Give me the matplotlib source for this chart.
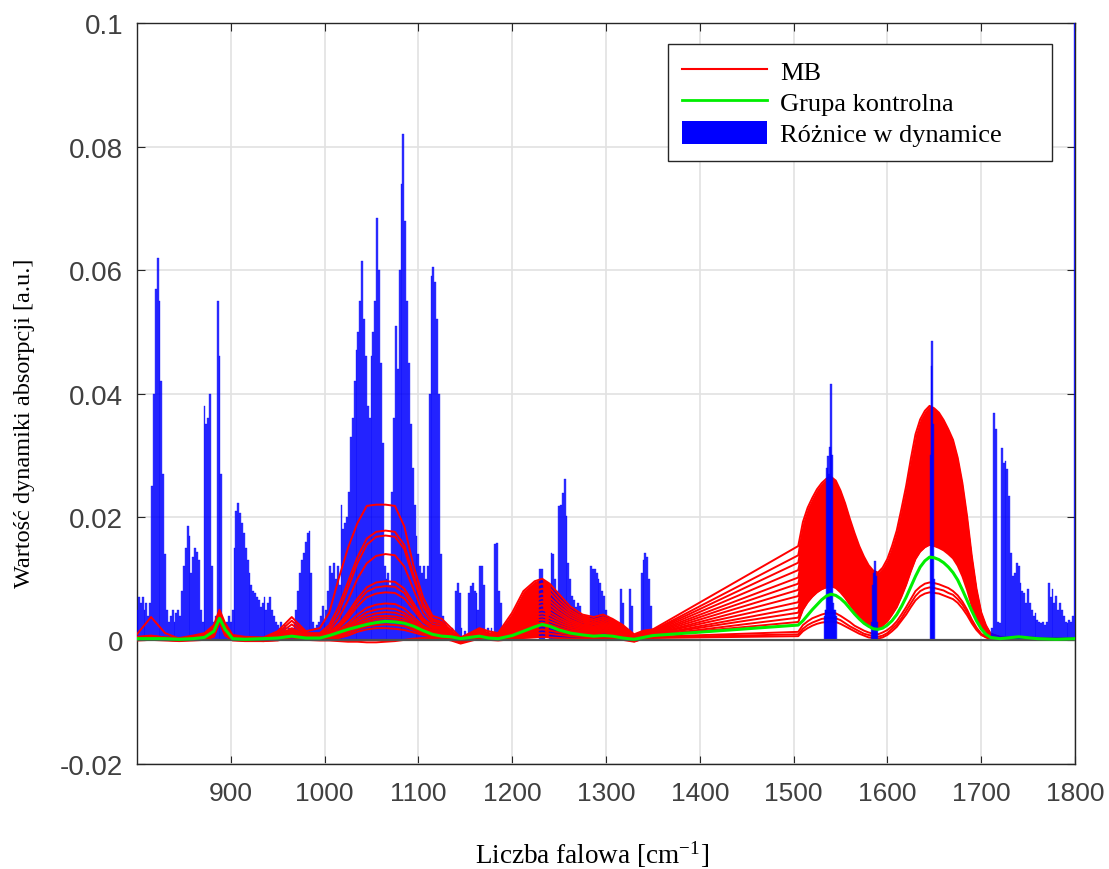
import numpy as np
import matplotlib
matplotlib.use("Agg")
import matplotlib.pyplot as plt
from matplotlib.lines import Line2D
from matplotlib.patches import Patch

# ---------------- data (absorbance values in 1e-3 a.u.) ----------------
wn_lo = [800, 815, 830, 845, 860, 872, 882, 888, 894, 902, 915, 935, 950, 965, 980,
         995, 1005, 1015, 1025, 1035, 1045, 1055, 1065, 1075, 1085, 1095, 1105, 1115,
         1125, 1135, 1145, 1155, 1165, 1175, 1185, 1200, 1212, 1224, 1232, 1240, 1250,
         1262, 1275, 1287, 1297, 1307, 1318, 1330, 1340, 1350]
wn_hi = [1505, 1510, 1515, 1520, 1525, 1530, 1535, 1540,
         1545, 1550, 1555, 1560, 1565, 1570, 1575, 1580, 1585, 1590,
         1595, 1600, 1605, 1610, 1615, 1620, 1625, 1630, 1635, 1640, 1645,
         1650, 1655, 1660, 1665, 1670, 1675, 1680, 1685, 1690, 1695, 1700, 1705, 1710,
         1720, 1740, 1760, 1780, 1800]

mb_lo = [
    [0.6, 0.8, 0.5, 0.4, 0.8, 1.2, 2.5, 5.0, 2.8, 0.9, 0.6, 0.5, 1.5, 3.8, 1.5, 2.0, 4.5, 10.0, 15.0, 19.0, 21.8, 22.0, 22.0, 21.8, 18.5, 12.0, 7.0, 4.0, 3.5, 2.0, 0.5, 1.2, 2.0, 1.5, 1.2, 4.5, 8.0, 9.6, 10.0, 9.2, 7.5, 5.5, 4.2, 3.8, 4.2, 3.5, 2.5, 1.0, 1.6, 1.8],
    [0.4, 0.6, 0.4, 0.3, 0.6, 1.0, 2.2, 4.6, 2.4, 0.7, 0.5, 0.4, 1.2, 3.2, 1.2, 1.2, 2.5, 5.5, 9.5, 13.5, 16.5, 17.6, 17.8, 17.6, 15.5, 10.5, 6.0, 3.5, 3.0, 1.6, 0.3, 1.0, 1.8, 1.2, 1.0, 3.8, 7.0, 8.8, 9.2, 8.5, 6.8, 5.0, 3.8, 3.4, 3.8, 3.2, 2.2, 0.8, 1.4, 1.6],
    [0.5, 0.7, 0.5, 0.3, 0.7, 0.9, 2.0, 4.2, 2.2, 0.6, 0.4, 0.3, 0.9, 2.6, 1.0, 1.0, 2.0, 4.5, 8.5, 12.5, 15.5, 16.8, 17.0, 16.8, 14.8, 10.0, 5.5, 3.2, 2.8, 1.4, 0.2, 0.9, 1.6, 1.0, 0.9, 3.3, 6.3, 8.0, 8.4, 7.8, 6.2, 4.6, 3.5, 3.1, 3.5, 2.9, 2.0, 0.7, 1.3, 1.5],
    [0.3, 0.5, 0.4, 0.3, 0.5, 0.8, 1.9, 3.9, 2.0, 0.5, 0.4, 0.3, 0.8, 2.0, 0.9, 0.8, 1.6, 3.5, 6.5, 10.0, 12.5, 13.7, 14.0, 13.8, 12.0, 8.2, 4.5, 2.8, 2.5, 1.2, 0.1, 0.8, 1.5, 0.9, 0.8, 2.9, 5.6, 7.2, 7.6, 7.0, 5.6, 4.2, 3.2, 2.8, 3.2, 2.6, 1.8, 0.6, 1.2, 1.4],
    [0.4, 0.6, 0.4, 0.3, 0.6, 0.8, 1.8, 3.8, 1.9, 0.5, 0.4, 0.3, 0.7, 1.8, 0.8, 0.7, 1.3, 2.6, 4.5, 6.8, 8.6, 9.4, 9.6, 9.5, 8.4, 6.0, 3.6, 2.4, 2.2, 1.0, 0.1, 0.7, 1.4, 0.8, 0.7, 2.6, 5.0, 6.5, 6.9, 6.4, 5.1, 3.8, 2.9, 2.6, 2.9, 2.4, 1.6, 0.5, 1.1, 1.3],
    [0.3, 0.5, 0.3, 0.2, 0.5, 0.7, 1.6, 3.6, 1.8, 0.4, 0.3, 0.2, 0.6, 1.6, 0.7, 0.6, 1.1, 2.3, 4.0, 6.2, 7.9, 8.6, 8.8, 8.7, 7.7, 5.5, 3.3, 2.2, 2.0, 0.9, 0.0, 0.6, 1.3, 0.7, 0.6, 2.3, 4.5, 5.9, 6.3, 5.8, 4.6, 3.4, 2.6, 2.3, 2.7, 2.2, 1.5, 0.4, 1.0, 1.2],
    [1.0, 3.8, 1.2, 0.3, 0.4, 0.6, 1.5, 3.5, 1.7, 0.4, 0.3, 0.2, 0.6, 1.5, 0.6, 0.5, 1.0, 2.0, 3.6, 5.5, 7.0, 7.6, 7.8, 7.7, 6.8, 4.9, 3.0, 2.0, 1.8, 0.8, 0.0, 0.6, 1.2, 0.7, 0.5, 2.0, 4.0, 5.3, 5.7, 5.2, 4.2, 3.1, 2.4, 2.1, 2.5, 2.0, 1.4, 0.4, 0.9, 1.1],
    [0.3, 0.4, 0.3, 0.2, 0.4, 0.6, 1.4, 3.4, 1.6, 0.3, 0.2, 0.2, 0.5, 1.4, 0.5, 0.4, 0.8, 1.6, 2.8, 4.2, 5.3, 5.8, 6.0, 5.9, 5.2, 3.8, 2.4, 1.7, 1.6, 0.7, -0.1, 0.5, 1.1, 0.6, 0.5, 1.8, 3.6, 4.7, 5.0, 4.6, 3.7, 2.8, 2.2, 1.9, 2.3, 1.8, 1.2, 0.3, 0.9, 1.0],
    [0.2, 0.4, 0.3, 0.2, 0.4, 0.5, 1.3, 3.3, 1.5, 0.3, 0.2, 0.1, 0.4, 1.3, 0.5, 0.4, 0.7, 1.4, 2.4, 3.6, 4.6, 5.0, 5.2, 5.1, 4.5, 3.3, 2.1, 1.5, 1.4, 0.6, -0.1, 0.5, 1.0, 0.6, 0.4, 1.6, 3.2, 4.2, 4.4, 4.1, 3.3, 2.5, 2.0, 1.7, 2.1, 1.7, 1.1, 0.3, 0.8, 1.0],
    [0.3, 0.4, 0.3, 0.2, 0.3, 0.5, 1.2, 3.2, 1.4, 0.3, 0.2, 0.1, 0.4, 1.2, 0.4, 0.3, 0.6, 1.2, 2.1, 3.2, 4.0, 4.4, 4.6, 4.5, 4.0, 2.9, 1.9, 1.4, 1.3, 0.5, -0.2, 0.4, 0.9, 0.5, 0.4, 1.4, 2.8, 3.7, 3.9, 3.6, 2.9, 2.2, 1.8, 1.6, 1.9, 1.5, 1.0, 0.2, 0.8, 0.9],
    [0.2, 0.3, 0.2, 0.1, 0.3, 0.4, 1.1, 3.1, 1.3, 0.2, 0.1, 0.1, 0.3, 1.1, 0.4, 0.3, 0.5, 1.0, 1.8, 2.8, 3.5, 3.9, 4.0, 3.9, 3.5, 2.6, 1.7, 1.2, 1.1, 0.5, -0.2, 0.4, 0.8, 0.5, 0.3, 1.2, 2.4, 3.2, 3.4, 3.1, 2.5, 1.9, 1.6, 1.4, 1.7, 1.4, 0.9, 0.2, 0.7, 0.9],
    [0.2, 0.3, 0.2, 0.1, 0.3, 0.4, 1.0, 3.0, 1.2, 0.2, 0.1, 0.0, 0.3, 1.0, 0.3, 0.2, 0.4, 0.9, 1.6, 2.5, 3.1, 3.5, 3.6, 3.5, 3.1, 2.3, 1.5, 1.1, 1.0, 0.4, -0.2, 0.3, 0.8, 0.4, 0.3, 1.0, 2.0, 2.7, 2.9, 2.6, 2.1, 1.6, 1.4, 1.2, 1.5, 1.2, 0.8, 0.1, 0.7, 0.8],
    [0.2, 0.2, 0.2, 0.1, 0.2, 0.3, 0.9, 3.0, 1.1, 0.2, 0.1, 0.0, 0.2, 0.9, 0.3, 0.2, 0.4, 0.8, 1.4, 2.2, 2.8, 3.1, 3.2, 3.1, 2.8, 2.0, 1.3, 1.0, 0.9, 0.4, -0.2, 0.3, 0.7, 0.4, 0.2, 0.8, 1.6, 2.2, 2.4, 2.2, 1.8, 1.4, 1.2, 1.0, 1.3, 1.1, 0.7, 0.1, 0.6, 0.8],
    [0.1, 0.2, 0.1, 0.0, 0.2, 0.3, 0.8, 3.2, 1.0, 0.1, 0.0, 0.0, 0.2, 0.8, 0.2, 0.1, 0.3, 0.6, 1.1, 1.8, 2.3, 2.5, 2.6, 2.5, 2.3, 1.7, 1.1, 0.8, 0.7, 0.3, -0.3, 0.2, 0.6, 0.3, 0.2, 0.6, 1.2, 1.6, 1.8, 1.6, 1.3, 1.0, 0.9, 0.8, 1.0, 0.8, 0.5, 0.0, 0.5, 0.6],
    [0.1, 0.1, 0.1, 0.0, 0.1, 0.2, 0.7, 3.0, 0.9, 0.1, 0.0, -0.1, 0.1, 0.7, 0.2, 0.1, 0.2, 0.4, 0.8, 1.4, 1.8, 2.0, 2.0, 1.9, 1.7, 1.3, 0.9, 0.6, 0.5, 0.2, -0.4, 0.1, 0.5, 0.2, 0.1, 0.4, 0.8, 1.1, 1.2, 1.1, 0.9, 0.7, 0.6, 0.5, 0.7, 0.6, 0.3, -0.1, 0.4, 0.5],
    [0.0, 0.1, 0.0, -0.1, 0.0, 0.1, 0.6, 3.0, 0.8, 0.0, -0.1, -0.1, 0.0, 0.5, 0.1, 0.0, 0.0, -0.1, -0.2, -0.2, -0.3, -0.3, -0.2, -0.1, 0.1, 0.3, 0.4, 0.4, 0.3, 0.0, -0.5, -0.1, 0.3, 0.1, 0.0, 0.2, 0.4, 0.5, 0.6, 0.5, 0.4, 0.3, 0.3, 0.3, 0.4, 0.3, 0.1, -0.2, 0.3, 0.4],
]
mb_hi = [
    [15.3, 19.2, 21.5, 23.1, 24.5, 25.5, 26.2, 26.5, 25.9, 24.3, 22.2, 19.7, 17.4, 15.3, 13.6, 12.2, 11.3, 11.0, 11.8, 13.2, 15.3, 17.8, 21.3, 25.0, 29.4, 33.4, 35.8, 37.2, 38.0, 37.6, 36.9, 35.7, 34.2, 32.5, 29.6, 25.5, 20.1, 13.7, 8.4, 4.6, 2.5, 1.1, 0.6, 0.5, 0.4, 0.3, 0.3],
    [13.8, 17.7, 20.0, 21.6, 23.0, 24.0, 24.7, 25.0, 24.4, 22.9, 20.8, 18.4, 16.2, 14.2, 12.6, 11.2, 10.3, 10.0, 10.8, 12.1, 14.2, 16.5, 19.9, 23.5, 27.7, 31.6, 33.9, 35.2, 36.0, 35.6, 34.9, 33.8, 32.4, 30.8, 28.1, 24.1, 19.1, 13.0, 7.9, 4.3, 2.3, 1.1, 0.5, 0.5, 0.4, 0.3, 0.3],
    [12.6, 16.4, 18.6, 20.2, 21.5, 22.5, 23.2, 23.5, 22.9, 21.5, 19.4, 17.1, 15.0, 13.1, 11.5, 10.2, 9.3, 9.0, 9.8, 11.0, 13.1, 15.4, 18.7, 22.3, 26.3, 30.2, 32.5, 33.7, 34.5, 34.2, 33.5, 32.4, 31.1, 29.5, 26.9, 23.1, 18.3, 12.4, 7.6, 4.1, 2.2, 1.0, 0.5, 0.5, 0.4, 0.3, 0.3],
    [11.4, 15.1, 17.2, 18.8, 20.1, 21.0, 21.7, 22.0, 21.5, 20.1, 18.1, 15.9, 13.9, 12.1, 10.6, 9.3, 8.5, 8.2, 8.9, 10.2, 12.2, 14.4, 17.6, 21.1, 25.1, 28.8, 31.0, 32.3, 33.0, 32.7, 32.0, 31.0, 29.7, 28.2, 25.7, 22.1, 17.5, 11.9, 7.3, 4.0, 2.1, 1.0, 0.5, 0.5, 0.4, 0.3, 0.3],
    [10.2, 13.8, 15.9, 17.4, 18.6, 19.6, 20.2, 20.5, 20.0, 18.6, 16.8, 14.7, 12.7, 10.9, 9.5, 8.3, 7.5, 7.2, 7.9, 9.1, 11.0, 13.2, 16.2, 19.6, 23.4, 27.0, 29.1, 30.3, 31.0, 30.7, 30.1, 29.1, 27.9, 26.5, 24.2, 20.8, 16.4, 11.2, 6.8, 3.7, 2.0, 0.9, 0.5, 0.5, 0.4, 0.3, 0.3],
    [9.2, 12.6, 14.6, 16.1, 17.2, 18.1, 18.7, 19.0, 18.5, 17.2, 15.5, 13.5, 11.6, 9.9, 8.5, 7.4, 6.7, 6.4, 7.1, 8.2, 10.0, 12.1, 15.0, 18.2, 21.8, 25.2, 27.2, 28.3, 29.0, 28.7, 28.1, 27.3, 26.1, 24.8, 22.6, 19.4, 15.4, 10.4, 6.4, 3.5, 1.9, 0.9, 0.4, 0.5, 0.4, 0.3, 0.3],
    [8.2, 11.5, 13.3, 14.7, 15.8, 16.7, 17.2, 17.5, 17.0, 15.8, 14.2, 12.3, 10.5, 8.9, 7.6, 6.6, 5.8, 5.6, 6.2, 7.3, 9.0, 11.0, 13.7, 16.7, 20.2, 23.4, 25.3, 26.4, 27.0, 26.7, 26.2, 25.4, 24.3, 23.1, 21.1, 18.1, 14.3, 9.7, 5.9, 3.2, 1.8, 0.8, 0.4, 0.5, 0.4, 0.3, 0.3],
    [7.2, 10.3, 12.0, 13.4, 14.4, 15.2, 15.7, 16.0, 15.6, 14.4, 12.9, 11.1, 9.4, 7.9, 6.7, 5.7, 5.0, 4.8, 5.4, 6.4, 8.0, 9.9, 12.5, 15.3, 18.5, 21.6, 23.4, 24.4, 25.0, 24.8, 24.3, 23.5, 22.5, 21.4, 19.5, 16.8, 13.3, 9.0, 5.5, 3.0, 1.6, 0.8, 0.4, 0.5, 0.4, 0.3, 0.3],
    [6.2, 9.1, 10.8, 12.0, 13.0, 13.8, 14.3, 14.5, 14.1, 13.0, 11.6, 9.9, 8.3, 6.9, 5.8, 4.8, 4.2, 4.0, 4.6, 5.5, 7.0, 8.8, 11.2, 13.9, 16.9, 19.8, 21.5, 22.4, 23.0, 22.8, 22.3, 21.6, 20.7, 19.7, 17.9, 15.4, 12.2, 8.3, 5.1, 2.8, 1.5, 0.7, 0.4, 0.5, 0.4, 0.3, 0.3],
    [5.3, 8.0, 9.5, 10.7, 11.6, 12.3, 12.8, 13.0, 12.6, 11.7, 10.3, 8.8, 7.3, 6.1, 5.0, 4.2, 3.6, 3.4, 3.9, 4.8, 6.2, 7.8, 10.1, 12.6, 15.4, 18.0, 19.6, 20.5, 21.0, 20.8, 20.4, 19.7, 18.9, 18.0, 16.4, 14.1, 11.1, 7.6, 4.6, 2.5, 1.4, 0.6, 0.3, 0.4, 0.3, 0.3, 0.2],
    [4.5, 7.0, 8.4, 9.4, 10.2, 10.9, 11.3, 11.5, 11.2, 10.3, 9.1, 7.7, 6.4, 5.2, 4.3, 3.5, 3.0, 2.8, 3.3, 4.1, 5.4, 6.9, 9.0, 11.2, 13.8, 16.3, 17.7, 18.5, 19.0, 18.8, 18.4, 17.9, 17.1, 16.2, 14.8, 12.7, 10.1, 6.8, 4.2, 2.3, 1.2, 0.6, 0.3, 0.4, 0.3, 0.3, 0.2],
    [3.7, 5.9, 7.2, 8.1, 8.9, 9.4, 9.8, 10.0, 9.7, 8.9, 7.8, 6.6, 5.5, 4.5, 3.6, 2.9, 2.5, 2.3, 2.7, 3.5, 4.7, 6.0, 7.9, 9.9, 12.3, 14.5, 15.8, 16.6, 17.0, 16.8, 16.5, 16.0, 15.3, 14.5, 13.3, 11.4, 9.0, 6.1, 3.7, 2.0, 1.1, 0.5, 0.3, 0.4, 0.3, 0.2, 0.2],
    [3.0, 5.0, 6.2, 7.1, 7.8, 8.3, 8.6, 8.8, 8.5, 7.8, 6.9, 5.8, 4.8, 3.9, 3.2, 2.5, 2.1, 2.0, 2.4, 3.1, 4.2, 5.4, 7.1, 9.0, 11.2, 13.2, 14.4, 15.1, 15.5, 15.3, 15.0, 14.6, 14.0, 13.3, 12.1, 10.4, 8.2, 5.6, 3.4, 1.9, 1.0, 0.5, 0.3, 0.4, 0.3, 0.2, 0.2],
    [1.4, 2.5, 3.1, 3.6, 3.9, 4.2, 4.4, 4.5, 4.4, 4.0, 3.5, 3.0, 2.4, 2.0, 1.6, 1.3, 1.1, 1.0, 1.3, 1.7, 2.3, 3.1, 4.2, 5.4, 6.7, 8.0, 8.7, 9.2, 9.4, 9.3, 9.1, 8.8, 8.5, 8.0, 7.3, 6.3, 5.0, 3.4, 2.1, 1.1, 0.6, 0.3, 0.2, 0.3, 0.2, 0.2, 0.2],
    [1.0, 1.9, 2.5, 2.9, 3.2, 3.5, 3.6, 3.7, 3.6, 3.3, 2.8, 2.3, 1.9, 1.5, 1.1, 0.9, 0.7, 0.6, 0.8, 1.2, 1.9, 2.6, 3.6, 4.8, 6.0, 7.2, 8.0, 8.4, 8.6, 8.5, 8.3, 8.1, 7.7, 7.4, 6.7, 5.8, 4.6, 3.1, 1.9, 1.0, 0.6, 0.3, 0.2, 0.3, 0.2, 0.2, 0.1],
    [0.7, 1.5, 2.0, 2.4, 2.7, 2.9, 3.0, 3.1, 3.0, 2.7, 2.3, 1.9, 1.5, 1.1, 0.8, 0.5, 0.4, 0.3, 0.5, 0.9, 1.5, 2.2, 3.2, 4.2, 5.4, 6.5, 7.2, 7.6, 7.8, 7.7, 7.6, 7.3, 7.0, 6.7, 6.1, 5.2, 4.1, 2.8, 1.7, 0.9, 0.5, 0.2, 0.2, 0.3, 0.2, 0.1, 0.1],
]
ctrl_lo = [0.3, 0.3, 0.3, 0.2, 0.3, 0.5, 1.5, 3.6, 1.8, 0.3, 0.2, 0.3, 0.4, 0.7, 0.4,
           0.4, 0.8, 1.3, 1.8, 2.2, 2.6, 2.9, 3.1, 3.0, 2.8, 2.3, 1.6, 1.0, 0.7, 0.6,
           0.3, 0.5, 0.7, 0.4, 0.3, 0.8, 1.5, 2.2, 2.6, 2.3, 1.7, 1.2, 0.9, 0.7, 0.8,
           0.7, 0.4, 0.2, 0.5, 0.8]
ctrl_hi = [2.5, 3.2, 4.1, 5.0, 5.8, 6.6, 7.2, 7.5,
           7.3, 6.8, 6.1, 5.2, 4.3, 3.5, 2.8, 2.3, 1.9, 1.8,
           2.0, 2.5, 3.2, 4.2, 5.5, 7.0, 8.7, 10.4, 11.9, 12.9, 13.5,
           13.4, 13.1, 12.6, 11.9, 11.0, 9.8, 8.2, 6.5, 4.8, 3.2, 1.9, 1.0, 0.5,
           0.3, 0.6, 0.3, 0.2, 0.3]

# differences in dynamics (bars)
diff_wn_a = list(range(800, 1131, 2))
diff_val_a = [5, 7, 6, 7, 5, 6, 4, 6, 25, 40,
              57, 62, 55, 42, 27, 14, 5, 3, 4, 5,
              3, 4.5, 5, 4, 8, 12, 15, 18.6, 17, 11,
              13.6, 15, 14.4, 13, 5, 3, 38, 35, 36, 40,
              12, 3, 4, 55, 46, 27, 3, 2, 3, 4,
              3, 5, 15, 21, 22.3, 20.7, 19, 17.4, 15, 13,
              11, 9, 8, 7.7, 7, 6.6, 5.5, 6, 7, 5,
              6, 7, 5, 4, 3, 2.5, 2, 3, 2, 2.5,
              1.5, 2, 1.5, 2, 3, 5, 8, 11, 13, 14.2,
              16, 17.4, 17.7, 11, 3, 2, 2.5, 3, 4, 5.6,
              3,
              5, 8, 12, 11, 12.5, 10, 12, 9, 22,
              18, 19, 20, 24, 33, 36, 42, 47, 50, 55,
              61.5, 52, 46, 38, 36, 46, 50, 55, 68.5, 60,
              45, 32, 12, 10, 11, 9, 24, 36, 51, 44,
              60, 74, 82, 68, 55, 45, 35, 28, 22, 17,
              14, 12, 11, 12, 10, 12, 40, 59, 60.5, 58,
              52, 40, 14, 4, 3, 2.5]
diff_wn_b = [1132, 1136, 1140, 1142, 1144, 1146, 1150, 1154, 1156, 1158, 1160, 1162, 1164,
             1166, 1168, 1170, 1174, 1178, 1182, 1184, 1186, 1188, 1190, 1200, 1230, 1232,
             1234, 1240, 1242, 1244, 1246, 1248, 1250, 1252, 1254, 1256, 1258, 1260, 1262,
             1264, 1266, 1268, 1270, 1272, 1274, 1276, 1284, 1286, 1288, 1290, 1292, 1294,
             1296, 1298, 1300, 1302, 1316, 1318, 1326, 1328, 1338, 1340, 1342, 1344, 1346, 1348]
diff_val_b = [2, 2, 8, 9.3, 7.7, 2, 1.5, 7.7, 8.8, 9.3, 8, 7.7, 5,
              12, 12, 9, 2, 2, 15.6, 15.8, 8, 6.1, 2, 1, 11.5, 11.5,
              5, 4, 14.2, 14, 10, 8, 21.8, 22, 23.9, 26.1, 20.1, 12.6, 10,
              7.2, 6.6, 5.5, 6, 5.6, 4, 3, 12, 11.5, 11.5, 11, 10, 9.3,
              8, 7.2, 5, 4, 8.3, 6, 8.3, 5.6, 11, 13, 14.2, 13.5, 9.9, 5.6]
diff_wn_c = [1533, 1534, 1535, 1536, 1537, 1538, 1539, 1540, 1541, 1542, 1543, 1544, 1545,
             1584, 1585, 1586, 1587, 1588, 1589, 1646, 1647, 1648, 1649, 1650]
diff_val_c = [4, 5, 5, 28, 29.8, 27, 31.4, 41.5, 30, 6, 5, 5, 4,
              3, 9, 11, 12.8, 10.5, 3, 30, 44.4, 48.5, 35, 10]
diff_wn_d = list(range(1712, 1801, 2))
diff_val_d = [2, 36.9, 34.2, 3, 2.8, 31.2, 28.8, 29, 27.7, 23.4, 14.2, 10.4, 11, 12.6, 12,
              9.3, 8, 7.7, 6, 8.3, 6, 5, 4, 4.5, 3.4, 3, 2.8, 3, 2.5, 3,
              9.3, 7, 8.3, 6, 7.2, 5, 6.1, 5, 4, 3, 2.8, 3.4, 3, 4, 110]

x_ticks = [900, 1000, 1100, 1200, 1300, 1400, 1500, 1600, 1700, 1800]
y_ticks = [-0.02, 0, 0.02, 0.04, 0.06, 0.08, 0.1]
y_tick_labels = ["-0.02", "0", "0.02", "0.04", "0.06", "0.08", "0.1"]
legend_labels = ["MB", "Grupa kontrolna", "Różnice w dynamice"]

# ---------------- plotting ----------------
serif = "Liberation Serif"
sans = "Liberation Sans"

wn = np.array(wn_lo + wn_hi, dtype=float)
mb = np.array([lo + hi for lo, hi in zip(mb_lo, mb_hi)], dtype=float) * 1e-3
ctrl = np.array(ctrl_lo + ctrl_hi, dtype=float) * 1e-3
bar_wn = np.array(diff_wn_a + diff_wn_b + diff_wn_c + diff_wn_d, dtype=float)
bar_val = np.array(diff_val_a + diff_val_b + diff_val_c + diff_val_d, dtype=float) * 1e-3

fig = plt.figure(figsize=(11.09, 8.70), dpi=100)
ax = fig.add_axes([0.1235, 0.1207, 0.8458, 0.8517])

m1 = (wn >= 1185) & (wn <= 1350)
ax.fill_between(wn, mb.min(axis=0), mb.max(axis=0), where=m1, color="red", lw=0, zorder=1.9)
m2 = wn >= 1505
ax.fill_between(wn, mb[12], mb[0], where=m2, color="red", lw=0, zorder=1.9)

ax.bar(bar_wn, bar_val, width=2.0, color="blue", edgecolor="blue", linewidth=0.3,
       alpha=0.8, zorder=3)

left = wn <= 1350
right = wn >= 1350
for row in mb:
    # fingerprint region drawn above the bars, amide region below them
    ax.plot(wn[left], row[left], color="red", lw=1.4, zorder=3.2, solid_joinstyle="round")
    ax.plot(wn[right], row[right], color="red", lw=1.4, zorder=2, solid_joinstyle="round")
ax.axhline(0, color="#505050", lw=1.6, zorder=3.5)
ax.plot(wn, ctrl, color="#00ee00", lw=2.2, zorder=4)

ax.set_xlim(800, 1800)
ax.set_ylim(-0.02, 0.1)
ax.set_xticks(x_ticks)
ax.set_xticklabels([str(v) for v in x_ticks], fontfamily=sans, fontsize=19)
ax.set_yticks(y_ticks)
ax.set_yticklabels(y_tick_labels, fontfamily=sans, fontsize=20)
ax.tick_params(axis="both", direction="in", length=6, width=0.8, top=True, right=True,
               colors="#262626", labelcolor="#404040")
ax.tick_params(axis="x", pad=12)
ax.tick_params(axis="y", pad=10)
ax.grid(True, color="#e2e2e2", lw=1.2)
ax.set_axisbelow(True)
for s in ax.spines.values():
    s.set_color("#262626")
    s.set_linewidth(1.0)

handles = [Line2D([], [], color="red", lw=1.5),
           Line2D([], [], color="#00ee00", lw=2.0),
           Patch(facecolor="blue", edgecolor="none")]
leg = ax.legend(handles, legend_labels, loc="upper left",
                bbox_to_anchor=(0.566, 0.8165, 0.4094, 0.1552), mode="expand",
                borderaxespad=0, prop={"family": serif, "size": 19}, handlelength=3.2,
                handleheight=0.95, labelspacing=0.22, handletextpad=0.5, fancybox=False,
                framealpha=1, edgecolor="#262626", borderpad=0.55)
leg.get_frame().set_linewidth(1.0)

plt.rcParams["mathtext.fontset"] = "stix"
fig.text(592 / 1109, 1 - 855 / 870, "Liczba falowa [cm$^{\\mathregular{-1}}$]", ha="center",
         va="center", fontfamily=serif, fontsize=19.5)
fig.text(25 / 1109, 1 - 423 / 870, "Wartość dynamiki absorpcji [a.u.]", rotation=90,
         ha="center", va="center", fontfamily=serif, fontsize=17.5)

fig.savefig("out.png", dpi=100)
